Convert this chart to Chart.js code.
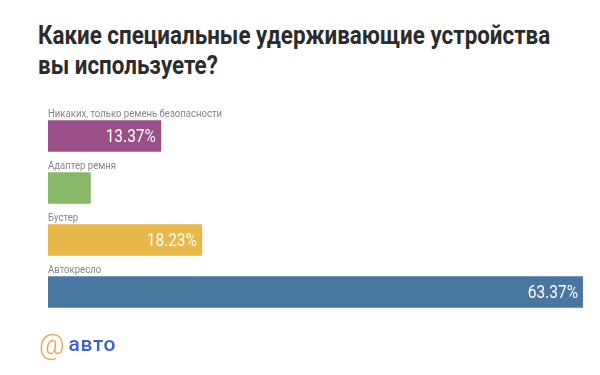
<!DOCTYPE html>
<html lang="ru">
<head>
<meta charset="utf-8">
<script src="https://cdn.jsdelivr.net/npm/chart.js@4"></script>
<style>
  html, body { margin: 0; padding: 0; background: #fff; }
  #wrap { position: relative; width: 600px; height: 375px; overflow: hidden; }
  #chart { position: absolute; left: 0; top: 0; }
  h1 {
    position: absolute; left: 38px; top: 21px; margin: 0; white-space: nowrap;
    font: bold 25px "Roboto", sans-serif; line-height: 30px; color: #2b2b2b;
    transform: scaleX(0.895); transform-origin: 0 0;
  }
  .logo { position: absolute; left: 39px; top: 328px; font-family: "Roboto", sans-serif; white-space: nowrap; }
  .logo .at { color: #f0a24a; font-size: 28px; font-weight: 300; }
  .logo .name { color: #3c5fd6; font-size: 21px; font-weight: 500; letter-spacing: 0.6px; margin-left: 4px; position: relative; top: -3px; }
</style>
</head>
<body>
<div id="wrap">
  <h1>Какие специальные удерживающие устройства<br>вы используете?</h1>
  <canvas id="chart" width="600" height="375"></canvas>
  <div class="logo"><span class="at">@</span><span class="name">авто</span></div>
</div>
<script>
// Answers, top to bottom, and their share in percent.
const categories = [
  "Никаких, только ремень безопасности",
  "Адаптер ремня",
  "Бустер",
  "Автокресло",
];
const shares = [13.37, 5.03, 18.23, 63.37];
const barColors = ["#9b4f87", "#8ab869", "#e8b84b", "#4a77a0"];

// Draw text squeezed horizontally (the reference uses a condensed face).
function narrowText(ctx, txt, x, y, sx) {
  ctx.save();
  ctx.translate(x, y);
  ctx.scale(sx, 1);
  ctx.fillText(txt, 0, 0);
  ctx.restore();
}

// Category name above each bar, value inside the right end of the bar.
const barText = {
  id: "barText",
  afterDatasetsDraw(chart) {
    const { ctx } = chart;
    const meta = chart.getDatasetMeta(0);
    const yScale = chart.scales.y;
    ctx.save();
    meta.data.forEach((bar, i) => {
      const h = bar.height;
      // name
      ctx.font = '11px "Roboto", sans-serif';
      ctx.fillStyle = "#858585";
      ctx.textAlign = "left";
      ctx.textBaseline = "alphabetic";
      narrowText(ctx, categories[i], bar.base, yScale.getPixelForValue(i) - h / 2 - 4, 0.87);
      // value, only if it fits inside the bar
      const txt = shares[i].toFixed(2) + "%";
      ctx.font = '18px "Roboto", sans-serif';
      const sx = 0.86;
      const w = ctx.measureText(txt).width * sx;
      if (bar.x - bar.base > w + 10) {
        ctx.fillStyle = "#ffffff";
        ctx.textAlign = "right";
        ctx.textBaseline = "middle";
        narrowText(ctx, txt, bar.x - 5, bar.y + 1, sx);
      }
    });
    ctx.restore();
  },
};

renderChart();

function renderChart() {
  new Chart(document.getElementById("chart").getContext("2d"), {
    type: "bar",
    data: {
      labels: categories,
      datasets: [{
        data: shares,
        backgroundColor: barColors,
        borderWidth: 0,
        barThickness: 31,
      }],
    },
    options: {
      indexAxis: "y",
      responsive: false,
      animation: false,
      layout: { padding: { left: 48, right: 17, top: 110, bottom: 57 } },
      plugins: { legend: { display: false }, tooltip: { enabled: false } },
      scales: {
        x: { display: false, min: 0, max: 63.37 },
        y: { display: false },
      },
    },
    plugins: [barText],
  });
}
</script>
</body>
</html>
